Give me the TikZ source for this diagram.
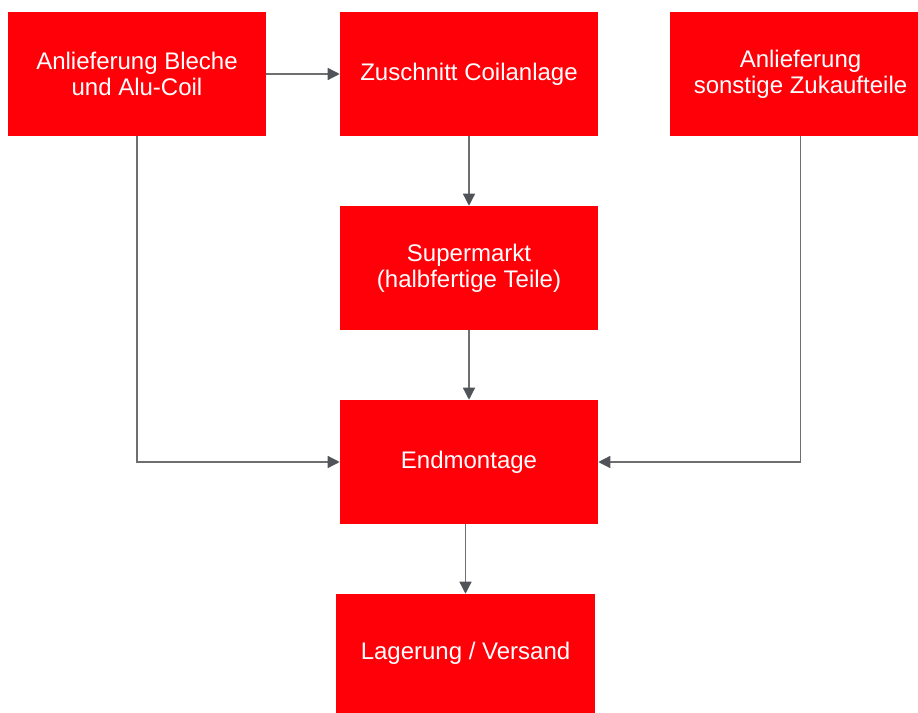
\documentclass[tikz,border=0pt]{standalone}
\usepackage{fontspec}
\setmainfont{Liberation Sans}
\usetikzlibrary{arrows.meta}
\definecolor{boxred}{HTML}{FF0009}
\definecolor{linegray}{HTML}{6E6E6E}
\definecolor{headgray}{HTML}{505458}
\begin{document}
\begin{tikzpicture}[x=0.75pt,y=-0.75pt,
  box/.style={fill=boxred,draw=none,text=white,align=center,inner sep=0pt,
    font=\fontsize{18}{19.5}\selectfont},
  conn/.style={draw=linegray,line width=1pt,
    -{Triangle[length=9pt,width=9pt,fill=headgray,color=headgray]}}]
\useasboundingbox (0,0) rectangle (918,713);
\node[box,minimum width=193.5pt,minimum height=93pt] (b1) at (137,74) {Anlieferung Bleche\\und Alu-Coil};
\node[box,minimum width=193.5pt,minimum height=93pt] (b2) at (469,74) {Zuschnitt Coilanlage};
\node[box,minimum width=195.75pt,minimum height=93pt] (b3) at (800.5,74) {Anlieferung\\sonstige Zukaufteile};
\node[box,minimum width=193.5pt,minimum height=93pt] (b4) at (469,268) {Supermarkt\\(halbfertige Teile)};
\node[box,minimum width=193.5pt,minimum height=93pt] (b5) at (469,462) {Endmontage};
\node[box,minimum width=194.25pt,minimum height=89.25pt] (b6) at (465.5,653.5) {Lagerung / Versand};
\draw[conn] (b1.east) -- (b2.west);
\draw[conn] (b2.south) -- (b4.north);
\draw[conn] (b4.south) -- (b5.north);
\draw[conn] (b5.south -| b6.north) -- (b6.north);
\draw[conn] (b1.south) |- (b5.west);
\draw[conn] (b3.south) |- (b5.east);
\end{tikzpicture}
\end{document}
